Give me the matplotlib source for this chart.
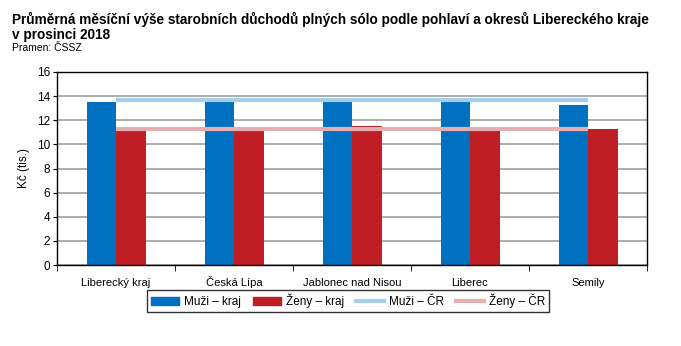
import numpy as np
import matplotlib.pyplot as plt
from matplotlib.lines import Line2D
from matplotlib.patches import Patch

plt.rcParams['font.family'] = ['Liberation Sans', 'DejaVu Sans']

# data (Kč, thousands)
okresy = ['Liberecký kraj', 'Česká Lípa', 'Jablonec nad Nisou', 'Liberec', 'Semily']
muzi_kraj = [13.52, 13.60, 13.52, 13.52, 13.27]
zeny_kraj = [11.22, 11.22, 11.50, 11.22, 11.25]
muzi_cr = [13.71] * 5
zeny_cr = [11.29] * 5

fig = plt.figure(figsize=(6.81, 3.46), dpi=100)
ax = fig.add_axes([57 / 681, 1 - 265 / 346, 590 / 681, 193 / 346])

x = np.arange(len(okresy))
w = 0.25
ax.bar(x - w / 2, muzi_kraj, w, color='#0070c0', label='Muži – kraj', zorder=2)
ax.bar(x + w / 2, zeny_kraj, w, color='#be1e24', label='Ženy – kraj', zorder=2)
ax.plot(x, muzi_cr, color='#a6cfec', lw=3, solid_capstyle='butt', zorder=3)
ax.plot(x, zeny_cr, color='#e6aeb1', lw=3, solid_capstyle='butt', zorder=3)

ax.set_xlim(-0.5, len(okresy) - 0.5)
ax.set_ylim(0, 16)
ax.set_yticks(range(0, 17, 2))
ax.yaxis.grid(True, color='#a0a0a0', lw=1.2)
ax.set_axisbelow(True)
ax.set_xticks(x)
ax.set_xticklabels(okresy, fontsize=8, va='baseline')
ax.set_xticks(np.arange(-0.5, len(okresy)), minor=True)
ax.tick_params(axis='x', which='major', length=0, pad=15)
ax.tick_params(axis='x', which='minor', length=4, direction='out')
ax.tick_params(axis='y', labelsize=8.5, length=3, direction='out', pad=2)
for s in ax.spines.values():
    s.set_linewidth(1)
ax.set_ylabel('Kč (tis.)', fontsize=8.5, labelpad=5)

handles = [Patch(color='#0070c0'), Patch(color='#be1e24'),
           Line2D([], [], color='#a6cfec', lw=3), Line2D([], [], color='#e6aeb1', lw=3)]
labels = ['Muži – kraj', 'Ženy – kraj', 'Muži – ČR', 'Ženy – ČR']
fig.legend(handles, labels, ncol=4, loc='center', bbox_to_anchor=(348 / 681, 1 - 301 / 346),
           fontsize=8.5, frameon=True, fancybox=False, edgecolor='black', handlelength=2.4,
           handleheight=0.6, columnspacing=1.0, borderpad=0.35, handletextpad=0.4,
           borderaxespad=0)

fig.text(12 / 681, 1 - 12 / 346,
         'Průměrná měsíční výše starobních důchodů plných sólo podle pohlaví a okresů Libereckého kraje\nv prosinci 2018',
         fontsize=9.8, fontweight='bold', va='top', ha='left', linespacing=1.05,
         family=['Liberation Sans Narrow', 'Liberation Sans'])
fig.text(12 / 681, 1 - 43 / 346, 'Pramen: ČSSZ', fontsize=7.5, va='top', ha='left',
         family=['Liberation Sans Narrow', 'Liberation Sans'])

fig.savefig('out.png', dpi=100)
